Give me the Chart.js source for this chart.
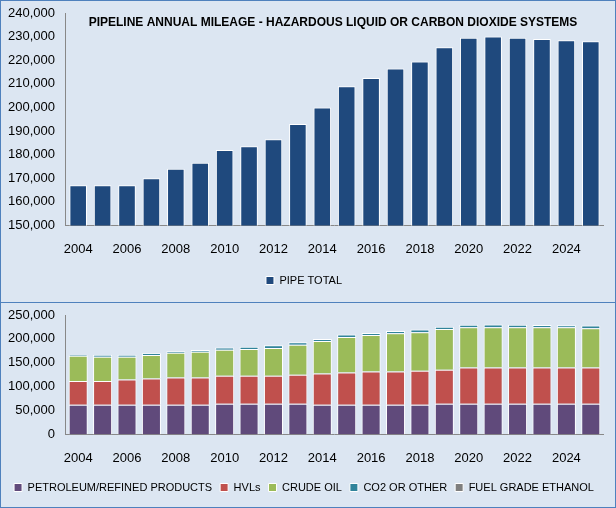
<!DOCTYPE html>
<html>
<head>
<meta charset="utf-8">
<script src="https://cdn.jsdelivr.net/npm/chart.js@4"></script>
<style>
  body { margin: 0; background: #fff; }
  .panel { position: absolute; left: 0; width: 614px; background: #dce6f2; border: 1px solid #4f81bd; }
  #p1 { top: 0; height: 301px; }
  #p2 { top: 302px; height: 204px; }
</style>
</head>
<body>
<div class="panel" id="p1"><canvas id="totalChart" width="614" height="301"></canvas></div>
<div class="panel" id="p2"><canvas id="typeChart" width="614" height="204"></canvas></div>
<script>
const years = ['2004','2005','2006','2007','2008','2009','2010','2011','2012','2013','2014',
    '2015','2016','2017','2018','2019','2020','2021','2022','2023','2024','2025'];
const pipeTotal = [167000,167000,167000,170000,174000,176500,182000,183500,186500,193000,200000,
    209000,212500,216500,219500,225500,229500,230000,229500,229000,228500,228000];
const petroleum = [62000,62000,62000,62000,62000,62000,64000,64000,64000,64000,62000,
    62000,62000,62000,62000,64000,64000,64000,64000,64000,64000,64000];
const hvls = [50000,50000,53000,55000,57000,57000,59000,59000,59000,61000,65500,
    67500,69500,69500,71500,71500,76000,76000,76000,76000,76000,76000];
const crudeOil = [52500,50500,47500,49500,52000,54000,54000,56000,58000,62500,68000,
    74500,76500,80500,80500,85000,84500,84500,84500,84500,84500,82500];
const co2 = [2500,4500,4500,3500,3000,3500,5000,4500,5500,5500,4500,
    5000,4500,4500,5500,5000,5000,5500,5000,4500,4000,5500];
const ethanol = [0,0,0,0,0,0,0,0,0,0,0,0,0,0,0,0,50,50,50,50,50,50];

Chart.defaults.font.family = '"Liberation Sans Narrow", "Liberation Sans", sans-serif';
Chart.defaults.font.size = 13;
Chart.defaults.color = '#000';
Chart.defaults.animation = false;

// title drawn over the plot area, like the original
const overTitle = {
    id: 'overTitle',
    afterDraw(chart) {
        const ctx = chart.ctx;
        ctx.save();
        ctx.font = 'bold 12px "Liberation Sans Narrow", "Liberation Sans", sans-serif';
        ctx.fillStyle = '#000';
        ctx.textAlign = 'center';
        ctx.fillText('PIPELINE ANNUAL MILEAGE - HAZARDOUS LIQUID OR CARBON DIOXIDE SYSTEMS', 332, 22);
        ctx.restore();
    }
};

function xAxis() {
    return {
        grid: { display: false },
        border: { color: '#888' },
        ticks: {
            autoSkip: false, maxRotation: 0, padding: 8,
            callback: function (v, i) { return i % 2 === 0 ? years[i] : ''; }
        }
    };
}

function legendOpts() {
    return {
        position: 'bottom',
        labels: { boxWidth: 8, boxHeight: 8, padding: 10, font: { size: 11 } }
    };
}

new Chart(document.getElementById('totalChart'), {
    type: 'bar',
    data: {
        labels: years,
        datasets: [{
            label: 'PIPE TOTAL', data: pipeTotal,
            backgroundColor: '#1f497d', borderColor: '#fff', borderWidth: 1,
            categoryPercentage: 0.72, barPercentage: 1
        }]
    },
    options: {
        responsive: false,
        layout: { padding: { left: 4, right: 12, top: 12, bottom: 6 } },
        plugins: { legend: legendOpts() },
        scales: {
            x: xAxis(),
            y: {
                min: 150000, max: 240000,
                grid: { display: false },
                border: { color: '#888' },
                ticks: { stepSize: 10000, callback: v => v.toLocaleString('en-US') }
            }
        }
    },
    plugins: [overTitle]
});

const typeColors = ['#604a7b', '#c0504d', '#9bbb59', '#31849b', '#7f7f7f'];
const typeNames = ['PETROLEUM/REFINED PRODUCTS', 'HVLs', 'CRUDE OIL', 'CO2 OR OTHER', 'FUEL GRADE ETHANOL'];
const typeData = [petroleum, hvls, crudeOil, co2, ethanol];

new Chart(document.getElementById('typeChart'), {
    type: 'bar',
    data: {
        labels: years,
        datasets: typeData.map(function (d, i) {
            return {
                label: typeNames[i], data: d,
                backgroundColor: typeColors[i], borderColor: '#fff', borderWidth: 1,
                categoryPercentage: 0.78, barPercentage: 1
            };
        })
    },
    options: {
        responsive: false,
        layout: { padding: { left: 4, right: 12, top: 12, bottom: 4 } },
        plugins: {
            legend: {
                position: 'bottom',
                labels: { boxWidth: 8, boxHeight: 8, padding: 8, font: { size: 11 } }
            }
        },
        scales: {
            x: Object.assign(xAxis(), { stacked: true }),
            y: {
                stacked: true, min: 0, max: 250000,
                grid: { display: false },
                border: { color: '#888' },
                ticks: { stepSize: 50000, callback: v => v.toLocaleString('en-US') }
            }
        }
    }
});
</script>
</body>
</html>
